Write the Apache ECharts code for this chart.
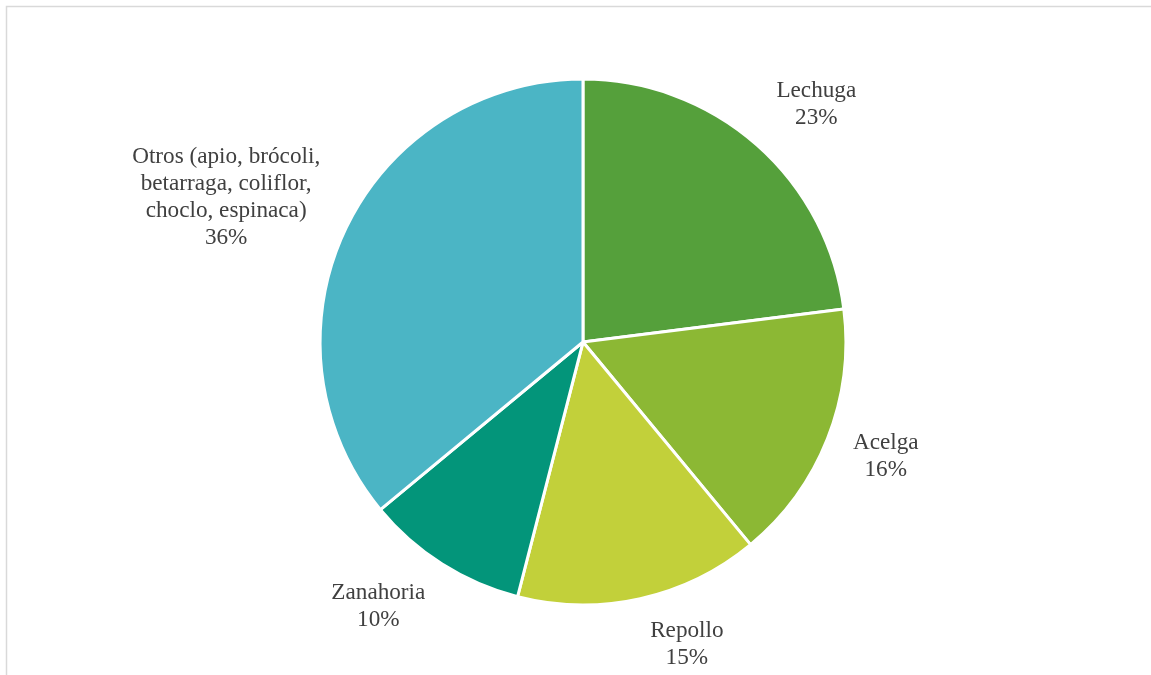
<!DOCTYPE html>
<html>
<head>
<meta charset="utf-8">
<script src="https://cdn.jsdelivr.net/npm/echarts@6/dist/echarts.min.js"></script>
<style>
  html, body { margin: 0; padding: 0; background: #ffffff; }
  #chart { width: 1151px; height: 675px; }
</style>
</head>
<body>
<div id="chart"></div>
<script>
// Hortalizas: participación por cultivo (%)
const categories = [
  'Lechuga',
  'Acelga',
  'Repollo',
  'Zanahoria',
  'Otros (apio, brócoli,\nbetarraga, coliflor,\nchoclo, espinaca)'
];
const shares = [23, 16, 15, 10, 36];
const colors = ['#55A03B', '#8CB834', '#C2D03A', '#03957A', '#4BB5C5'];

const CENTER = ['50.65%', '50.67%'];
const RADIUS = '77.9%';

const chart = echarts.init(document.getElementById('chart'), null, { renderer: 'canvas' });

const total = shares.reduce((a, b) => a + b, 0);

// Place each label just outside its slice, with the box corner facing the pie
function placeLabel(params) {
  const i = params.dataIndex;
  const w = chart.getWidth();
  const h = chart.getHeight();
  const cx = w * parseFloat(CENTER[0]) / 100;
  const cy = h * parseFloat(CENTER[1]) / 100;
  const r = Math.min(w, h) / 2 * parseFloat(RADIUS) / 100;
  let before = 0;
  for (let k = 0; k < i; k++) before += shares[k];
  const theta = (before + shares[i] / 2) / total * Math.PI * 2;
  const dx = Math.sin(theta);
  const dy = -Math.cos(theta);
  const gap = 22;
  const px = cx + dx * (r + gap);
  const py = cy + dy * (r + gap);
  const lw = params.labelRect.width;
  const lh = params.labelRect.height;
  const x = px + Math.sign(dx) * (lw / 2 + 5);
  const y = py + Math.sign(dy) * (lh / 2) * Math.min(1, Math.abs(dy / dx)) * 0.9;
  return { x: x, y: y, align: 'center', verticalAlign: 'middle' };
}

chart.setOption({
  backgroundColor: '#ffffff',
  animation: false,
  graphic: [{
    type: 'rect',
    silent: true,
    shape: { x: 6.5, y: 6.5, width: 2000, height: 2000 },
    style: { fill: 'none', stroke: '#D9D9D9', lineWidth: 1.5 }
  }],
  series: [{
    type: 'pie',
    center: CENTER,
    radius: RADIUS,
    startAngle: 90,
    clockwise: true,
    avoidLabelOverlap: false,
    itemStyle: { borderColor: '#ffffff', borderWidth: 3 },
    label: {
      show: true,
      position: 'outside',
      formatter: '{b}\n{c}%',
      fontFamily: '"Liberation Serif", "Times New Roman", serif',
      fontSize: 23.2,
      lineHeight: 27,
      color: '#404040'
    },
    labelLine: { show: false },
    labelLayout: placeLabel,
    emphasis: { disabled: true },
    data: categories.map((name, i) => ({
      name: name,
      value: shares[i],
      itemStyle: { color: colors[i] }
    }))
  }]
});
</script>
</body>
</html>
